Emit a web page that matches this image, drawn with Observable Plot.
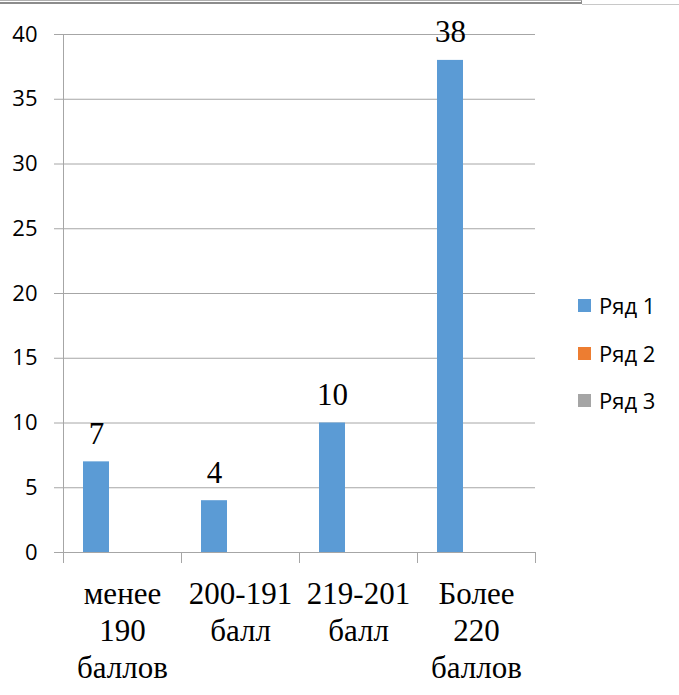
<!DOCTYPE html>
<html>
<head>
<meta charset="utf-8">
<script src="https://cdn.jsdelivr.net/npm/d3@7"></script>
<script src="https://cdn.jsdelivr.net/npm/@observablehq/plot@0.6"></script>
<style>
  html, body { margin: 0; padding: 0; background: #fff; }
  #wrap { position: relative; width: 679px; height: 695px; overflow: hidden; background: #fff; }
  #chart { position: absolute; left: 0; top: 0; }
  .legend { position: absolute; left: 578px; top: 0; font-family: "Open Sans", sans-serif; font-size: 22px; color: #000; }
  .legend .item { position: absolute; left: 0; display: flex; align-items: center; white-space: nowrap; height: 28px; }
  .legend .sw { width: 13px; height: 13px; margin-right: 8px; }
  .deco1 { position: absolute; left: 0; top: 0; width: 581px; height: 1px; border-top: 1px solid #b0b0b0; border-bottom: 2px solid #8c8c8c; border-right: 1px solid #8c8c8c; }
  .deco2 { position: absolute; left: 582px; top: 4px; width: 97px; height: 1px; background: #c8c8c8; }
</style>
</head>
<body>
<div id="wrap">
  <div id="chart"></div>
  <div class="deco1"></div>
  <div class="deco2"></div>
  <div class="legend" id="legend"></div>
</div>
<script>
// ---- data ----
const categories = ["менее 190 баллов", "200-191 балл", "219-201 балл", "Более 220 баллов"];
const categoryLabels = ["менее\n190\nбаллов", "200-191\nбалл", "219-201\nбалл", "Более\n220\nбаллов"];
const series = ["Ряд 1", "Ряд 2", "Ряд 3"];
const values1 = [7, 4, 10, 38];
const values2 = [null, null, null, null];
const values3 = [null, null, null, null];
const yTicks = [0, 5, 10, 15, 20, 25, 30, 35, 40];
const colors = ["#5B9BD5", "#ED7D31", "#A5A5A5"];

// ---- layout ----
const W = 679, H = 695;
const mL = 62, mR = 144, mT = 34, mB = 143;
const plotH = H - mT - mB;
const gray = "#a6a6a6";

const allValues = [values1, values2, values3];
const data = categories.flatMap((c, i) =>
  series.map((s, j) => ({ category: c, series: s, value: allValues[j][i] }))
).filter(d => d.value != null);

const chart = Plot.plot({
  width: W,
  height: H,
  marginLeft: mL,
  marginRight: mR,
  marginTop: mT,
  marginBottom: mB,
  style: { background: "transparent", overflow: "visible" },
  fx: { domain: categories, padding: 0, label: null },
  x: { domain: series, paddingInner: 0, paddingOuter: 0.74, axis: null },
  y: { domain: [0, 40], label: null },
  color: { domain: series, range: colors },
  marks: [
    Plot.gridY(yTicks, { stroke: gray, strokeOpacity: 1 }),
    Plot.axisY(yTicks, {
      tickSize: 9, tickPadding: 17, stroke: gray, strokeOpacity: 1,
      fontSize: 22, fontFamily: "Open Sans, sans-serif", label: null
    }),
    Plot.axisFx({
      anchor: "bottom", tickSize: 0, tickPadding: 25, label: null,
      fontSize: 31, fontFamily: "Liberation Serif, Times New Roman, serif", lineHeight: 1.2,
      tickFormat: d => categoryLabels[categories.indexOf(d)]
    }),
    Plot.barY(data, { fx: "category", x: "series", y: "value", fill: "series" }),
    Plot.text(data.filter(d => d.series === series[0]), {
      fx: "category", x: "series", y: "value", text: d => String(d.value),
      dy: -18, lineAnchor: "bottom", fontSize: 31,
      fontFamily: "Liberation Serif, Times New Roman, serif", fill: "#000"
    }),
    Plot.ruleY([0], { stroke: gray }),
    Plot.frame({ anchor: "left", facetAnchor: "left", insetBottom: -10, stroke: gray }),
    Plot.frame({ anchor: "left", insetTop: plotH, insetBottom: -10, stroke: gray }),
    Plot.frame({ anchor: "right", facetAnchor: "right", insetTop: plotH, insetBottom: -10, stroke: gray })
  ]
});
document.getElementById("chart").appendChild(chart);

// ---- legend ----
const legend = document.getElementById("legend");
const legendCenters = [305, 353, 400];
series.forEach((s, i) => {
  const item = document.createElement("div");
  item.className = "item";
  item.style.top = (legendCenters[i] - 14) + "px";
  const sw = document.createElement("span");
  sw.className = "sw";
  sw.style.background = colors[i];
  const t = document.createElement("span");
  t.textContent = s;
  item.appendChild(sw);
  item.appendChild(t);
  legend.appendChild(item);
});
</script>
</body>
</html>
